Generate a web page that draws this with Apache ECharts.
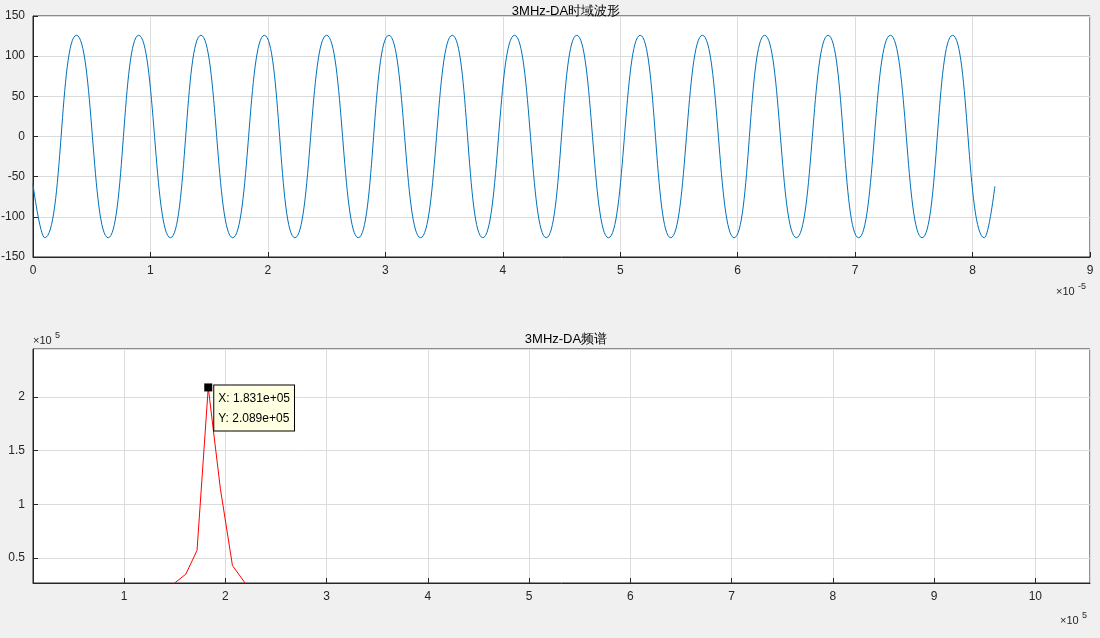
<!DOCTYPE html>
<html><head><meta charset="utf-8">
<script src="https://cdn.jsdelivr.net/npm/echarts@6/dist/echarts.min.js"></script>
<style>html,body{margin:0;background:#f0f0f0}#c{width:1100px;height:638px}</style>
</head><body><div id="c"></div>
<script>
// time-domain waveform extremes, x in units of 1e-5 s
var waveX = [0, 0.10, 0.37, 0.64, 0.90, 1.17, 1.43, 1.70, 1.97, 2.23, 2.50, 2.77, 3.03, 3.30, 3.57, 3.83, 4.10, 4.37, 4.63, 4.90, 5.17, 5.43, 5.70, 5.97, 6.23, 6.50, 6.77, 7.03, 7.30, 7.57, 7.83, 8.10, 8.19];
var waveY = [-60, -126, 126, -126, 126, -126, 126, -126, 126, -126, 126, -126, 126, -126, 126, -126, 126, -126, 126, -126, 126, -126, 126, -126, 126, -126, 126, -126, 126, -126, 126, -126, -62];
// spectrum, x and y in units of 1e5
var specX = [1.38, 1.49, 1.61, 1.72, 1.831, 1.95, 2.07, 2.20, 2.32];
var specY = [0.10, 0.26, 0.35, 0.57, 2.089, 1.15, 0.43, 0.26, 0.10];
var peakIndex = 4;

var font = 'Liberation Sans, Arial, sans-serif';
var myChart = echarts.init(document.getElementById('c'));
function ax(o) {
  return Object.assign({
    type: 'value',
    axisLine: { show: true, onZero: false, lineStyle: { color: '#262626' } },
    axisTick: { inside: true, length: 5, lineStyle: { color: '#262626' } },
    axisLabel: { color: '#262626', fontSize: 12, fontFamily: font, showMinLabel: false, showMaxLabel: false },
    splitLine: { show: true, lineStyle: { color: '#dcdcdc' } }
  }, o);
}
var lab = { color: '#262626', fontSize: 12, fontFamily: font };
var option = {
  backgroundColor: '#f0f0f0',
  animation: false,
  title: [
    { text: '3MHz-DA时域波形', left: 561, top: 0, textAlign: 'center', textStyle: { fontSize: 13, fontWeight: 'normal', color: '#000', fontFamily: font } },
    { text: '3MHz-DA频谱', left: 561, top: 328, textAlign: 'center', textStyle: { fontSize: 13, fontWeight: 'normal', color: '#000', fontFamily: font } }
  ],
  grid: [
    { left: 33, right: 10, top: 16, height: 241, show: true, backgroundColor: '#fff', borderColor: '#262626', outerBoundsMode: 'none' },
    { left: 33, right: 10, top: 349, height: 234, show: true, backgroundColor: '#fff', borderColor: '#262626', outerBoundsMode: 'none' }
  ],
  xAxis: [
    ax({ gridIndex: 0, min: 0, max: 9, interval: 1, axisLabel: lab }),
    ax({ gridIndex: 1, min: 0.1, max: 10.54, splitNumber: 10 })
  ],
  yAxis: [
    ax({ gridIndex: 0, min: -150, max: 150, interval: 50, axisLabel: lab }),
    ax({ gridIndex: 1, min: 0.267, max: 2.447, splitNumber: 4 })
  ],
  series: [
    {
      type: 'line', xAxisIndex: 0, yAxisIndex: 0, smooth: 0.5, symbol: 'none',
      lineStyle: { color: '#0072bd', width: 1 },
      data: waveX.map(function (x, i) { return [x, waveY[i]]; })
    },
    {
      type: 'line', xAxisIndex: 1, yAxisIndex: 1, symbol: 'none', clip: true,
      lineStyle: { color: '#ff0000', width: 1 },
      data: specX.map(function (x, i) { return [x, specY[i]]; }),
      markPoint: {
        symbol: 'rect', symbolSize: 8,
        itemStyle: { color: '#000' },
        label: {
          show: true, position: [10, 2], align: 'left', verticalAlign: 'top',
          formatter: 'X: 1.831e+05\nY: 2.089e+05',
          color: '#000', fontSize: 12, fontFamily: font, lineHeight: 20,
          backgroundColor: '#ffffe1', borderColor: '#000', borderWidth: 1, padding: [3, 4, 2, 4]
        },
        data: [{ coord: [specX[peakIndex], specY[peakIndex]] }]
      }
    }
  ],
  graphic: [
    { type: 'text', left: 1056, top: 286, style: { text: '×10', fill: '#262626', font: '11px ' + font } },
    { type: 'text', left: 1078, top: 282, style: { text: '-5', fill: '#262626', font: '9px ' + font } },
    { type: 'text', left: 33, top: 335, style: { text: '×10', fill: '#262626', font: '11px ' + font } },
    { type: 'text', left: 55, top: 331, style: { text: '5', fill: '#262626', font: '9px ' + font } },
    { type: 'text', left: 1060, top: 615, style: { text: '×10', fill: '#262626', font: '11px ' + font } },
    { type: 'text', left: 1082, top: 611, style: { text: '5', fill: '#262626', font: '9px ' + font } }
  ]
};
option && myChart.setOption(option);
</script></body></html>
